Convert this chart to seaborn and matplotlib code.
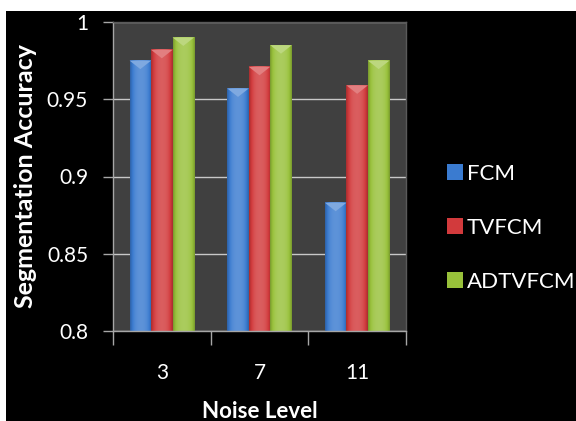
import numpy as np
import pandas as pd
import matplotlib
matplotlib.use("Agg")
import matplotlib.pyplot as plt
from matplotlib.patches import Rectangle, Polygon, Patch
from matplotlib.colors import to_rgb
import seaborn as sns

# Segmentation accuracy per noise level for each method
noise_levels = ["3", "7", "11"]
methods = ["FCM", "TVFCM", "ADTVFCM"]
fcm = [0.975, 0.957, 0.883]
tvfcm = [0.982, 0.971, 0.959]
adtvfcm = [0.990, 0.985, 0.975]
y_ticks = [0.8, 0.85, 0.9, 0.95, 1.0]
y_tick_labels = ["0.8", "0.85", "0.9", "0.95", "1"]

colors = ["#3a7bd0", "#d23a3c", "#98c13a"]

df = pd.DataFrame({
    "Noise Level": noise_levels * 3,
    "Method": [m for m in methods for _ in noise_levels],
    "Accuracy": fcm + tvfcm + adtvfcm,
})

sns.set_theme(style="dark")
plt.rcParams["font.family"] = ["Lato", "DejaVu Sans"]

fig = plt.figure(figsize=(5.76, 4.21), dpi=100, facecolor="white")
# black canvas behind the chart
fig.patches.append(Rectangle((6 / 576, 0), 1, (421 - 11) / 421,
                             transform=fig.transFigure, facecolor="black",
                             edgecolor="none", zorder=-10))

ax = fig.add_axes([113 / 576, 90 / 421, (406 - 113) / 576, (331 - 22) / 421])
ax.set_facecolor("#404040")

sns.barplot(data=df, x="Noise Level", y="Accuracy", hue="Method",
            order=noise_levels, hue_order=methods, palette=colors,
            width=0.66, ax=ax, legend=False, saturation=1,
            edgecolor="none", linewidth=0)

y_lo, y_hi = 0.8, 1.0
ax.set_ylim(y_lo, y_hi)
ax.set_xlim(-0.5, len(noise_levels) - 0.5)


def shade(rgb, f):
    rgb = np.array(rgb)
    if f >= 0:
        return rgb + (1 - rgb) * f
    return rgb * (1 + f)


# cylindrical shading and a bevelled cap on every bar
for patch in list(ax.patches):
    x0, y0 = patch.get_x(), patch.get_y()
    w, h = patch.get_width(), patch.get_height()
    top = y0 + h
    base = to_rgb(patch.get_facecolor())
    t = np.linspace(-1, 1, 64)
    prof = 0.18 * (1 - t ** 2) - 0.22 * t ** 4
    img = np.array([[shade(base, p) for p in prof]])
    ax.imshow(img, extent=[x0, x0 + w, max(y0, y_lo), top], aspect="auto",
              interpolation="bicubic", zorder=2)
    patch.set_zorder(2)
    cap_h = 0.0055
    cap = Polygon([[x0, top], [x0 + w, top], [x0 + w / 2, top - cap_h]],
                  closed=True, facecolor=shade(base, 0.35), edgecolor="none",
                  zorder=3)
    ax.add_patch(cap)

ax.set_xlim(-0.5, len(noise_levels) - 0.5)
ax.set_ylim(y_lo, y_hi)

ax.set_yticks(y_ticks)
ax.set_yticklabels(y_tick_labels)
ax.set_xticks(range(len(noise_levels)))
ax.set_xticklabels(noise_levels)
ax.set_xticks(np.arange(-0.5, len(noise_levels)), minor=True)

ax.grid(True, axis="y", color="#c8c8c8", linewidth=1.0)
ax.grid(False, axis="x")
ax.set_axisbelow(True)

ax.tick_params(axis="y", which="major", length=7, width=1, color="#a6a6a6",
               labelcolor="white", labelsize=15, pad=11, left=True)
ax.tick_params(axis="x", which="major", length=0, labelsize=15, pad=23,
               labelcolor="white")
ax.tick_params(axis="x", which="minor", length=10, width=1, color="#a6a6a6",
               bottom=True)

for side in ["left", "bottom"]:
    ax.spines[side].set_color("#a6a6a6")
    ax.spines[side].set_linewidth(1.0)
for side in ["top", "right"]:
    ax.spines[side].set_color("#5a5a5a")
    ax.spines[side].set_linewidth(1.0)

ax.set_xlabel("Noise Level", color="white", fontsize=16, fontweight="bold",
              labelpad=13)
ax.set_ylabel("Segmentation Accuracy", color="white", fontsize=18,
              fontweight="bold", labelpad=7)

handles = [Patch(facecolor=c, edgecolor="none") for c in colors]
leg = fig.legend(handles, methods, loc="center left",
                 bbox_to_anchor=(447 / 576, 1 - 228 / 421), frameon=False,
                 fontsize=16, labelcolor="white", handlelength=0.7,
                 handleheight=0.7, handletextpad=0.2, labelspacing=1.53,
                 borderpad=0, borderaxespad=0)

fig.savefig("out.png", dpi=100, facecolor=fig.get_facecolor())
